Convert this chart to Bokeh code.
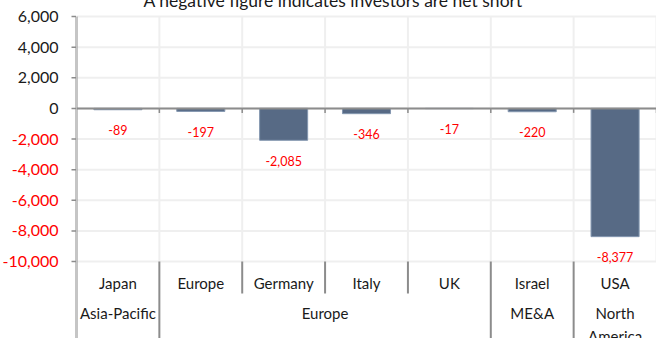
from bokeh.plotting import figure
from bokeh.layouts import row
from bokeh.models import (FactorRange, ColumnDataSource, Span, Range1d)
from bokeh.embed import file_html
from bokeh.resources import INLINE
from bokeh.core.properties import value

# ---------------- data ----------------
regions = ["Asia-Pacific", "Europe", "Europe", "Europe", "Europe", "ME&A", "North America"]
countries = ["Japan", "Europe", "Germany", "Italy", "UK", "Israel", "USA"]
net_positions = [-89, -197, -2085, -346, -17, -220, -8377]
y_ticks = [-10000, -8000, -6000, -4000, -2000, 0, 2000, 4000, 6000]
group_names = ["Asia-Pacific", "Europe", "ME&A", "North America"]
group_labels = ["Asia-Pacific", "Europe", "ME&A", "North\nAmerica"]
title_text = "A negative figure indicates investors are net short"

# ---------------- layout constants ----------------
FONT = "Lato"
BAR_COLOR = "#576A85"
RED = "#FF0000"
TEXT = "#1a1a1a"
AXIS_GRAY = "#8C8C8C"
GRID_GRAY = "#EFEFEF"
Y_TOP = max(y_ticks)
Y_GRID_BOTTOM = min(y_ticks)
PX_PER_UNIT = 245 / (Y_TOP - Y_GRID_BOTTOM)
y_start = Y_GRID_BOTTOM - 85 / PX_PER_UNIT
y_end = Y_TOP + 26 / PX_PER_UNIT
HEIGHT = 356
LABEL_W = 76
SHIFT = 10

factors = list(zip(regions, countries))
n = len(factors)

y_range = Range1d(y_start, y_end)
x_range = FactorRange(*factors, range_padding=0, group_padding=0,
                      factor_padding=0, subgroup_padding=0)

# ---------- narrow figure holding the value axis ----------
lab = figure(width=LABEL_W, height=HEIGHT, x_range=Range1d(0, LABEL_W),
             y_range=y_range, output_backend="svg", toolbar_location=None,
             x_axis_location=None, y_axis_location=None,
             min_border_left=0, min_border_right=0,
             min_border_top=0, min_border_bottom=0)
lab.outline_line_color = None
lab.grid.visible = False
lab.background_fill_color = "white"
lab.border_fill_color = "white"
k = len(y_ticks)
tick_src = ColumnDataSource(dict(
    x=[LABEL_W - 18] * k, y=y_ticks,
    text=[f"{t:,}" for t in y_ticks],
    color=[RED if t < 0 else TEXT for t in y_ticks]))
lab.text(x="x", y="y", text="text", color="color", source=tick_src,
         text_align="right", text_baseline="middle",
         text_font=value(FONT), text_font_size="16px")
lab.segment(x0=[LABEL_W - 5] * k, y0=y_ticks, x1=[LABEL_W] * k, y1=y_ticks,
            line_color=AXIS_GRAY, line_width=1.5)
lab.segment(x0=[LABEL_W], y0=[y_start], x1=[LABEL_W], y1=[Y_TOP],
            line_color=AXIS_GRAY, line_width=2)

# ---------- main chart ----------
p = figure(width=656 - LABEL_W, height=HEIGHT, x_range=x_range,
           y_range=y_range, output_backend="svg", toolbar_location=None,
           x_axis_location=None, y_axis_location=None,
           min_border_left=0, min_border_right=0,
           min_border_top=0, min_border_bottom=0)
p.outline_line_color = None
p.grid.visible = False
p.background_fill_color = "white"
p.border_fill_color = "white"

# horizontal gridlines
p.segment(x0=[0] * k, y0=y_ticks, x1=[n] * k, y1=y_ticks,
          line_color=GRID_GRAY, line_width=2)

# boundaries between categories
bounds = list(range(1, n))
is_group_bound = [regions[i] != regions[i - 1] for i in bounds]

# light vertical gridlines at category boundaries
p.segment(x0=bounds + [n], y0=[Y_GRID_BOTTOM] * n, x1=bounds + [n],
          y1=[Y_TOP] * n, line_color=GRID_GRAY, line_width=2)

# value axis line (other half is in the label figure)
p.segment(x0=[0], y0=[y_start], x1=[0], y1=[Y_TOP],
          line_color=AXIS_GRAY, line_width=2)

# bars
src = ColumnDataSource(dict(x=factors, v=net_positions,
                            ly=[v - 20.5 / PX_PER_UNIT for v in net_positions],
                            lt=[f"{v:,}" for v in net_positions]))
p.vbar(x="x", top=0, bottom="v", width=0.58, source=src,
       fill_color=BAR_COLOR, line_color="#8497B0", line_width=1)

# zero line and ticks on it
p.add_layout(Span(location=0, dimension="width", line_color=AXIS_GRAY,
                  line_width=2))
p.segment(x0=bounds + [n], y0=[0] * n, x1=bounds + [n],
          y1=[-4.5 / PX_PER_UNIT] * n, line_color=AXIS_GRAY, line_width=1.5)

# data labels
p.text(x="x", y="ly", text="lt", source=src, text_align="center",
       text_baseline="middle", text_font=value(FONT),
       text_font_size="12.5px", text_color=RED)

# category axis separators below the plot
inner = [b for b, g in zip(bounds, is_group_bound) if not g]
outer = [b for b, g in zip(bounds, is_group_bound) if g]
y_inner_end = Y_GRID_BOTTOM - 32 / PX_PER_UNIT
p.segment(x0=inner, y0=[Y_GRID_BOTTOM] * len(inner), x1=inner,
          y1=[y_inner_end] * len(inner), line_color=AXIS_GRAY, line_width=2)
p.segment(x0=outer, y0=[Y_GRID_BOTTOM] * len(outer), x1=outer,
          y1=[y_start] * len(outer), line_color=AXIS_GRAY, line_width=2)

# category labels
p.text(x=factors, y=[Y_GRID_BOTTOM - 21 / PX_PER_UNIT] * n, text=countries,
       text_align="center", text_baseline="middle", text_font=value(FONT),
       text_font_size="15px", text_color=TEXT)
p.text(x=group_names, y=[Y_GRID_BOTTOM - 42 / PX_PER_UNIT] * len(group_names),
       text=group_labels, text_align="center", text_baseline="top",
       text_font=value(FONT), text_font_size="15px", text_color=TEXT,
       text_line_height=1.3)

# title (its top is cut off by the window, as in the original)
p.text(x=[0], y=[Y_TOP + 16 / PX_PER_UNIT], text=[title_text], x_offset=67,
       text_align="left", text_baseline="alphabetic", text_font=value(FONT),
       text_font_size="17.5px", text_color=TEXT)

layout = row(lab, p, spacing=0,
             styles={"margin-top": f"-{SHIFT}px", "margin-bottom": "-10px"})

open("out.html", "w").write(file_html(layout, INLINE))
